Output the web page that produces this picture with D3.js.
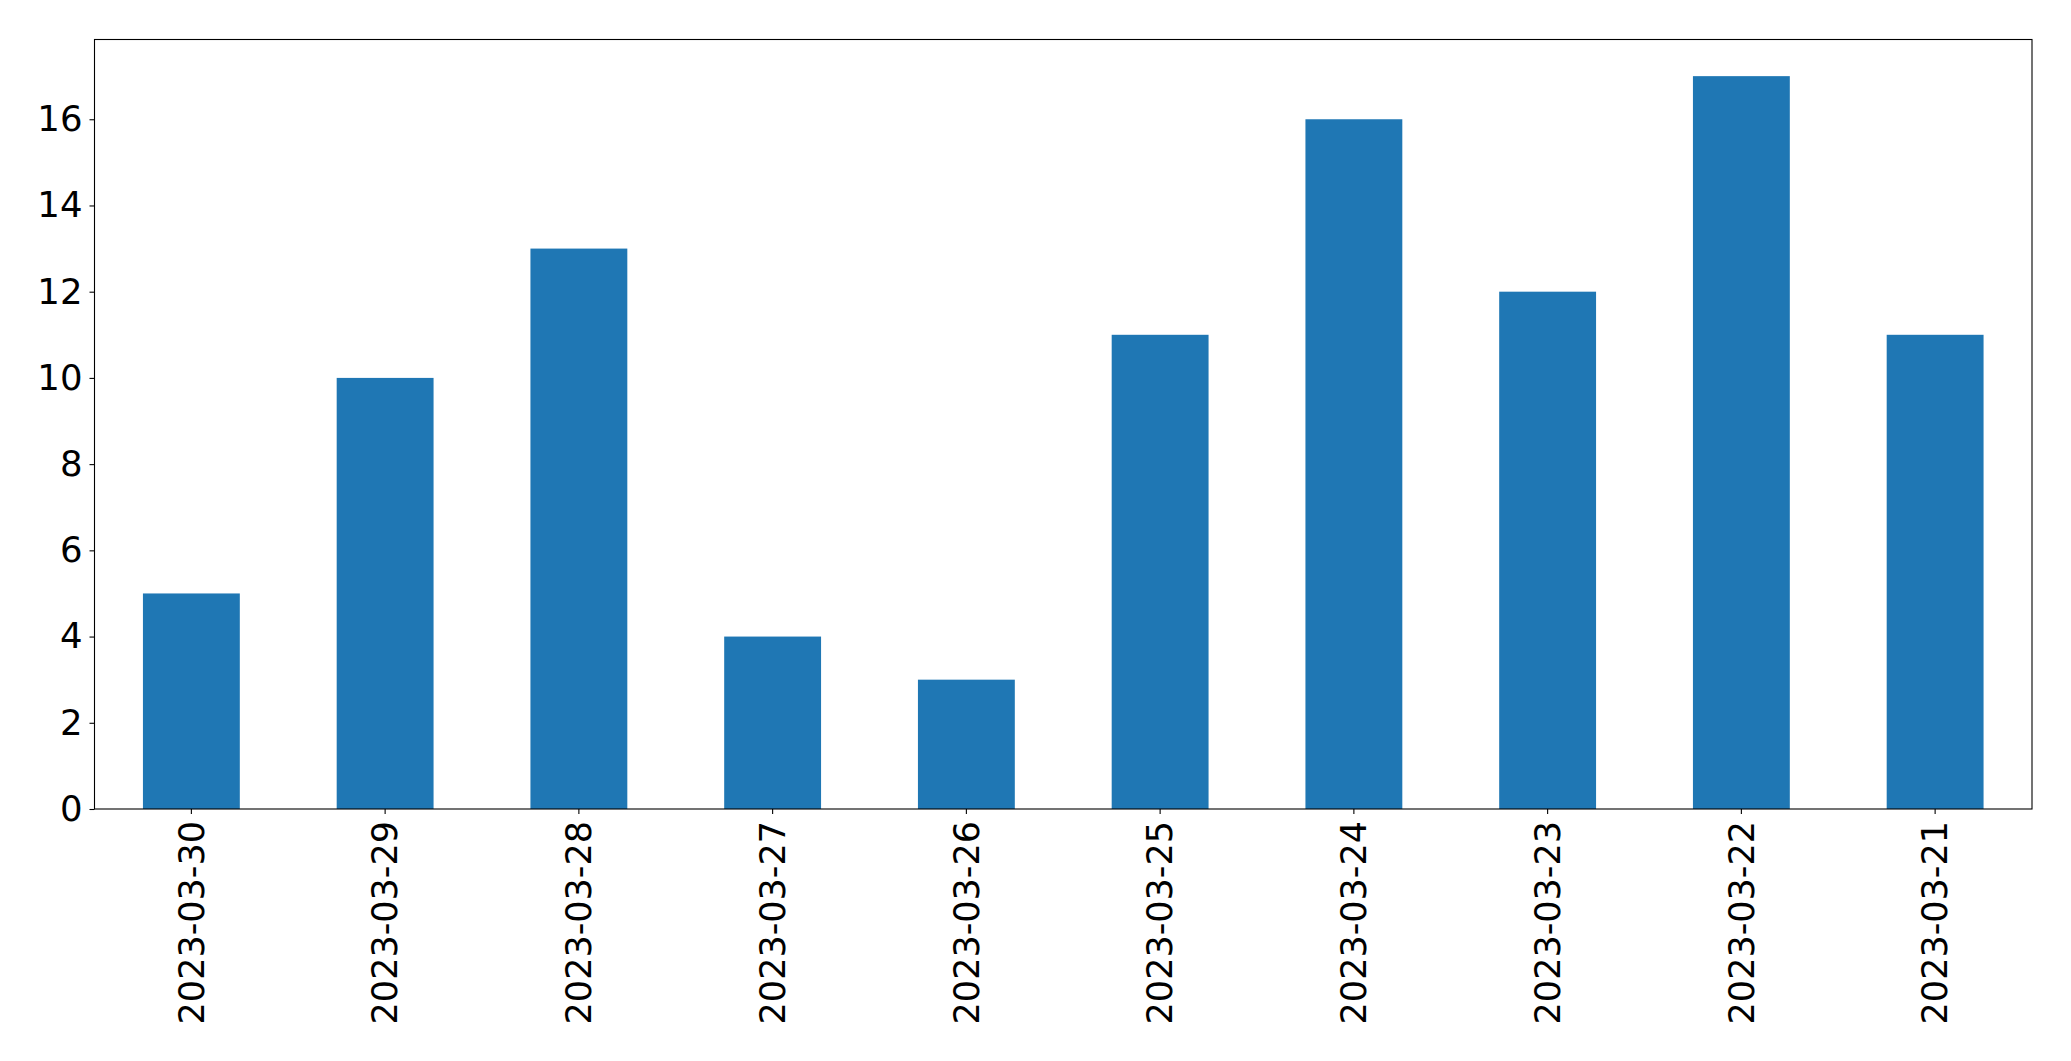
<!DOCTYPE html>
<html>
<head>
<meta charset="utf-8">
<script src="https://cdn.jsdelivr.net/npm/d3@7"></script>
<style>
  html, body { margin: 0; padding: 0; background: #fff; overflow: hidden; }
  svg { display: block; }
  text { font-family: "DejaVu Sans", sans-serif; }
</style>
</head>
<body>
<div id="chart"></div>
<script>
var width = 2071
var height = 1061

// data
var dates = ["2023-03-30", "2023-03-29", "2023-03-28", "2023-03-27", "2023-03-26",
             "2023-03-25", "2023-03-24", "2023-03-23", "2023-03-22", "2023-03-21"]
var counts = [5, 10, 13, 4, 3, 11, 16, 12, 17, 11]
var yTicks = [0, 2, 4, 6, 8, 10, 12, 14, 16]

var margin = {top: 39.5, right: 39, left: 94.5, bottom: 252}
var innerWidth = width - margin.left - margin.right
var innerHeight = height - margin.top - margin.bottom

var svg = d3.select("#chart")
  .append("svg")
    .attr("width", width)
    .attr("height", height)

var g = svg.append("g")
  .attr("transform", `translate(${margin.left},${margin.top})`)

// pandas-style bars: step 1, width 0.5
var xScale = d3.scaleBand()
  .domain(dates)
  .range([0, innerWidth])
  .paddingInner(0.5)
  .paddingOuter(0.25)

var yScale = d3.scaleLinear()
  .domain([0, d3.max(counts) * 1.05])
  .range([innerHeight, 0])

g.selectAll("rect").data(dates)
  .enter().append("rect")
    .attr("x", d => xScale(d))
    .attr("y", (d, i) => yScale(counts[i]))
    .attr("width", xScale.bandwidth())
    .attr("height", (d, i) => innerHeight - yScale(counts[i]))
    .attr("fill", "#1f77b4")

var yAxis = d3.axisLeft(yScale)
  .tickValues(yTicks)
  .tickSize(5)
  .tickPadding(7)
  .tickFormat(d3.format("d"))

var gy = g.append("g").call(yAxis)
gy.select(".domain").remove()
gy.selectAll("line").attr("stroke", "#000").attr("stroke-width", 1.1)
gy.selectAll("text")
  .attr("font-size", 35.5)
  .attr("fill", "#000")
  .attr("font-family", "DejaVu Sans")

var xAxis = d3.axisBottom(xScale).tickSize(5).tickSizeOuter(0)
var gx = g.append("g")
  .attr("transform", `translate(0,${innerHeight})`)
  .call(xAxis)
gx.select(".domain").remove()
gx.selectAll("line").attr("stroke", "#000").attr("stroke-width", 1.1)
gx.selectAll("text")
  .attr("font-size", 35)
  .attr("fill", "#000")
  .attr("font-family", "DejaVu Sans")
  .attr("text-anchor", "end")
  .attr("x", 0)
  .attr("y", 0)
  .attr("dy", "0.35em")
  .attr("transform", "translate(0,12) rotate(-90)")

// frame
g.append("rect")
  .attr("width", innerWidth)
  .attr("height", innerHeight)
  .attr("fill", "none")
  .attr("stroke", "#000")
  .attr("stroke-width", 1.1)
</script>
</body>
</html>
